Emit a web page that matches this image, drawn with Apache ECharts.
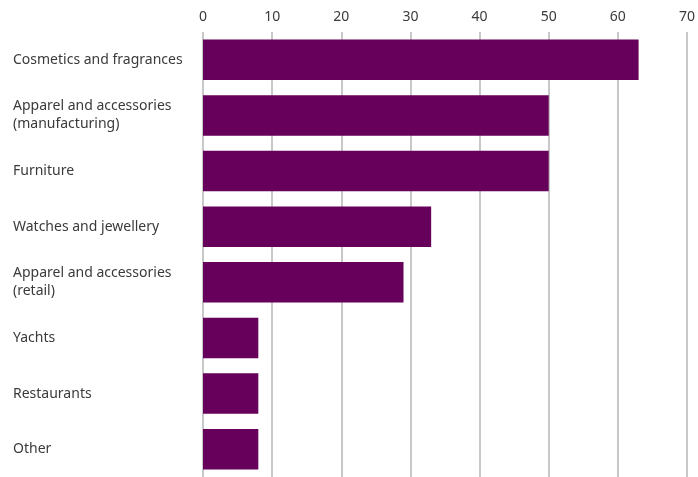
<!DOCTYPE html>
<html>
<head>
<meta charset="utf-8">
<script src="https://cdn.jsdelivr.net/npm/echarts@6/dist/echarts.min.js"></script>
<style>html,body{margin:0;padding:0;background:#fff;}#c{width:698px;height:477px;}</style>
</head>
<body>
<div id="c"></div>
<script>
const categories = ["Cosmetics and fragrances","Apparel and accessories (manufacturing)","Furniture","Watches and jewellery","Apparel and accessories (retail)","Yachts","Restaurants","Other"];
const values = [63,50,50,33,29,8,8,8];
const xTicks = [0,10,20,30,40,50,60,70];

const chart = echarts.init(document.getElementById('c'), null, {renderer:'canvas'});
chart.setOption({
  animation:false,
  backgroundColor:'#ffffff',
  grid:{left:203, right:10, top:32, height:448, containLabel:false},
  xAxis:{
    type:'value', position:'top', min:xTicks[0], max:xTicks[xTicks.length-1], interval:10,
    axisLine:{show:false}, axisTick:{show:false},
    axisLabel:{color:'#3a3a3a', fontSize:14, fontFamily:'Noto Sans', margin:8},
    splitLine:{show:true, lineStyle:{color:'#c8c8c8', width:2}}
  },
  yAxis:{
    type:'category', inverse:true, data:categories,
    axisLine:{show:false}, axisTick:{show:false},
    axisLabel:{color:'#3a3a3a', fontSize:14, fontFamily:'Noto Sans', align:'left', margin:190, lineHeight:18,
      formatter:v=>v.replace(' (','\n(')}
  },
  series:[{type:'bar', data:values, barCategoryGap:'27%', itemStyle:{color:'#66005a'}}]
});
</script>
</body>
</html>
